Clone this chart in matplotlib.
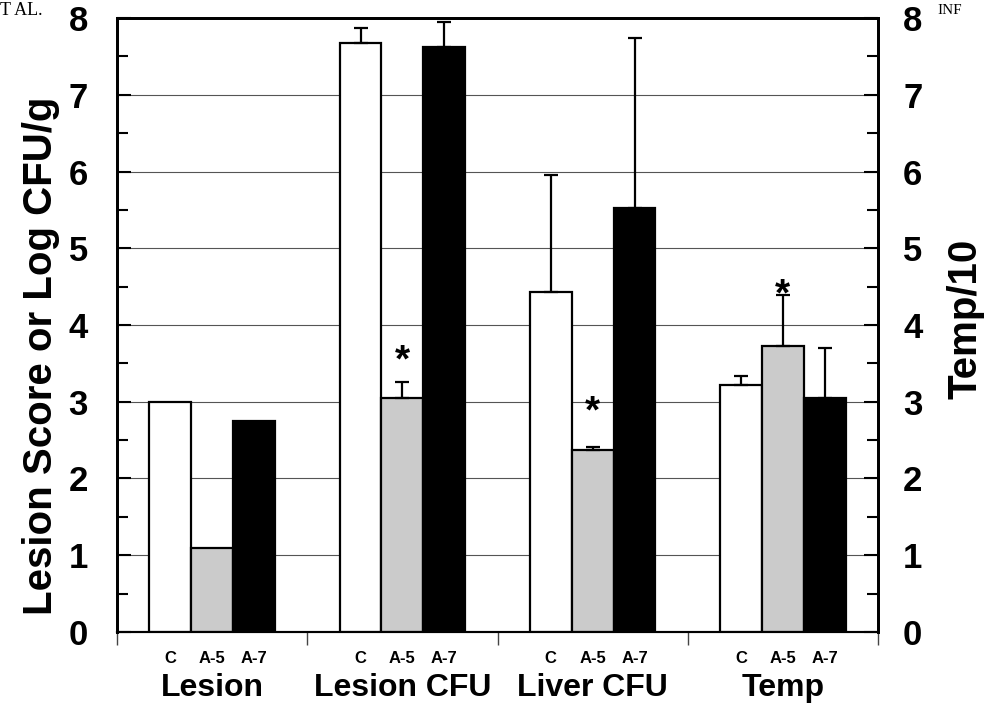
import numpy as np
import matplotlib
matplotlib.use("Agg")
import matplotlib.pyplot as plt
from matplotlib.ticker import MultipleLocator

plt.rcParams["font.family"] = ["Liberation Sans", "DejaVu Sans"]

groups = ["Lesion", "Lesion CFU", "Liver CFU", "Temp"]
treatments = ["C", "A-5", "A-7"]
# rows: C, A-5, A-7 ; cols: groups
means = [
    [3.00, 7.67, 4.43, 3.22],
    [1.10, 3.05, 2.37, 3.73],
    [2.75, 7.62, 5.53, 3.05],
]
errs = [
    [0.0, 0.20, 1.52, 0.12],
    [0.0, 0.21, 0.04, 0.66],
    [0.0, 0.33, 2.21, 0.65],
]
# asterisks: (treatment, group, y)
signif = [(1, 1, 3.52), (1, 2, 2.86), (1, 3, 4.38)]

colors = ["white", "#cbcbcb", "black"]
bar_w = 0.22

fig = plt.figure(figsize=(9.85, 7.04), dpi=100)
ax = fig.add_axes([0.1188, 0.1023, 0.7726, 0.8721])
ax.set_xlim(0, 4)
ax.set_ylim(0, 8)

x = np.arange(len(groups)) + 0.5
for i, t in enumerate(treatments):
    pos = x + (i - 1) * bar_w
    ax.bar(pos, means[i], width=bar_w, color=colors[i], edgecolor="black",
           linewidth=1.6, zorder=3)
    e = np.array(errs[i])
    has = e > 0
    ax.errorbar(pos[has], np.array(means[i])[has], yerr=[np.zeros(has.sum()), e[has]],
                fmt="none", ecolor="black", elinewidth=1.6, capsize=5, capthick=1.6, zorder=4)
    for p in pos:
        ax.text(p, -0.34, t, ha="center", va="center", fontsize=12, fontweight="bold",
                clip_on=False)

for ti, gi, ys in signif:
    ax.text(x[gi] + (ti - 1) * bar_w, ys, "*", ha="center", va="center",
            fontsize=28, fontweight="bold", zorder=5)

for gi, g in enumerate(groups):
    ax.text(x[gi], -0.73, g, ha="center", va="center", fontsize=23, fontweight="bold",
            clip_on=False)

# group separators on x axis
ax.set_xticks(np.arange(0, 5))
ax.set_xticklabels([])
ax.tick_params(axis="x", direction="out", length=9, width=1, color="#444444")

ax.yaxis.set_major_locator(MultipleLocator(1))
ax.yaxis.set_minor_locator(MultipleLocator(0.5))
ax.grid(axis="y", color="#555555", linewidth=0.8, zorder=0)
ax.tick_params(axis="y", which="major", direction="in", length=10, width=1.5,
               labelsize=25, pad=21)
ax.tick_params(axis="y", which="minor", direction="in", length=8, width=1.5)
for lab in ax.get_yticklabels():
    lab.set_fontweight("bold")
ax.set_ylabel("Lesion Score or Log CFU/g", fontsize=29, fontweight="bold", labelpad=6)
ax.yaxis.label.set_y(0.45)

ax2 = ax.twinx()
ax2.set_ylim(0, 8)
ax2.yaxis.set_major_locator(MultipleLocator(1))
ax2.yaxis.set_minor_locator(MultipleLocator(0.5))
ax2.tick_params(axis="y", which="major", direction="in", length=10, width=1.5,
                labelsize=25, pad=18)
ax2.tick_params(axis="y", which="minor", direction="in", length=8, width=1.5)
for lab in ax2.get_yticklabels():
    lab.set_fontweight("bold")
ax2.set_ylabel("Temp/10", fontsize=29, fontweight="bold", labelpad=17)
ax2.yaxis.label.set_y(0.51)

for a in (ax, ax2):
    for s in a.spines.values():
        s.set_linewidth(2)
    a.spines["bottom"].set_linewidth(1.5)

fig.text(0.0, 0.985, "T AL.", family="Liberation Serif", fontsize=13, va="center", ha="left")
fig.text(0.952, 0.985, "INF", family="Liberation Serif", fontsize=11, va="center", ha="left")

fig.savefig("out.png", dpi=100)
